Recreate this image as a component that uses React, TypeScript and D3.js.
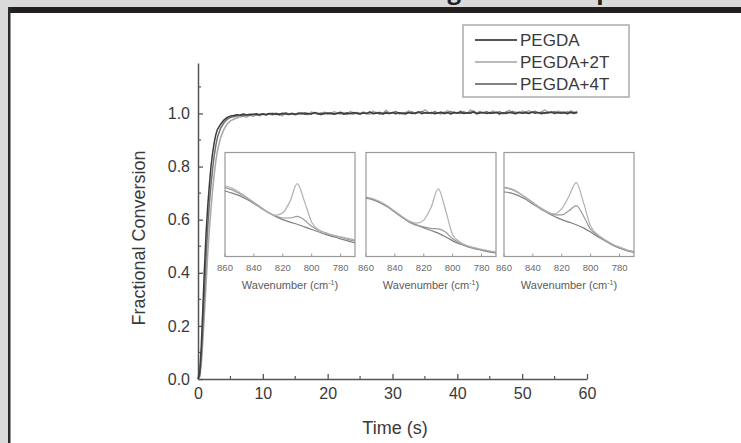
import React, { useEffect, useRef } from 'react';
import * as d3 from 'd3';

// time axis (s)
const timeS = [
  0, 0.25, 0.5, 0.75, 1, 1.25, 1.5, 1.75, 2, 2.25, 2.5, 2.75, 3, 3.5, 4, 4.5, 5,
  5.5, 6, 6.5, 7, 7.5, 8, 8.5, 9, 9.5, 10,
  10.5, 11, 11.5, 12, 12.5, 13, 13.5, 14, 14.5, 15,
  15.5, 16, 16.5, 17, 17.5, 18, 18.5, 19, 19.5, 20,
  20.5, 21, 21.5, 22, 22.5, 23, 23.5, 24, 24.5, 25,
  25.5, 26, 26.5, 27, 27.5, 28, 28.5, 29, 29.5, 30,
  30.5, 31, 31.5, 32, 32.5, 33, 33.5, 34, 34.5, 35,
  35.5, 36, 36.5, 37, 37.5, 38, 38.5, 39, 39.5, 40,
  40.5, 41, 41.5, 42, 42.5, 43, 43.5, 44, 44.5, 45,
  45.5, 46, 46.5, 47, 47.5, 48, 48.5, 49, 49.5, 50,
  50.5, 51, 51.5, 52, 52.5, 53, 53.5, 54, 54.5, 55,
  55.5, 56, 56.5, 57, 57.5, 58, 58.5,
];

const pegda = [
  0, 0.02, 0.12, 0.27, 0.42, 0.55, 0.65, 0.73, 0.8, 0.85, 0.89, 0.92, 0.94, 0.96, 0.975, 0.985, 0.99,
  0.992, 0.995, 0.993, 0.998, 0.994, 0.997, 0.996, 0.999, 0.995, 0.998,
  0.996, 1.0, 0.997, 0.999, 0.995, 1.001, 0.998, 0.996, 1.0, 0.997,
  0.999, 1.002, 0.997, 1.0, 0.998, 1.003, 0.999, 0.996, 1.001, 0.999,
  1.002, 0.998, 1.0, 1.003, 0.997, 1.001, 0.999, 1.004, 1.0, 0.998,
  1.002, 1.0, 1.005, 0.999, 1.001, 1.003, 0.998, 1.002, 1.0, 1.004,
  0.999, 1.003, 1.001, 0.998, 1.004, 1.0, 1.002, 1.006, 0.999, 1.003,
  1.001, 1.004, 0.999, 1.002, 1.005, 1.0, 1.003, 0.998, 1.004, 1.001,
  1.006, 1.0, 1.003, 1.001, 1.005, 0.999, 1.002, 1.004, 1.0, 1.003,
  1.001, 1.005, 0.998, 1.003, 1.0, 1.004, 1.002, 0.999, 1.005, 1.001,
  1.003, 1.0, 1.006, 1.001, 1.004, 0.999, 1.003, 1.002, 1.005, 1.0,
  1.004, 1.001, 1.003, 0.999, 1.005, 1.002, 1.004,
];

const pegda2T = [
  0, 0.01, 0.05, 0.14, 0.25, 0.36, 0.47, 0.56, 0.64, 0.71, 0.77, 0.82, 0.86, 0.91, 0.94, 0.96, 0.972,
  0.978, 0.983, 0.987, 0.99, 0.986, 0.993, 0.989, 0.995, 0.991, 0.997,
  0.993, 0.999, 0.994, 1.002, 0.996, 0.991, 1.003, 0.997, 1.0, 0.994,
  1.004, 0.998, 1.001, 0.995, 1.006, 0.999, 1.002, 0.996, 1.005, 1.0,
  0.997, 1.007, 1.001, 0.998, 1.004, 0.995, 1.008, 1.0, 1.003, 0.998,
  1.006, 1.001, 0.997, 1.009, 1.002, 1.005, 0.999, 1.012, 1.003, 1.0,
  1.007, 0.998, 1.004, 1.001, 1.01, 1.003, 0.999, 1.006, 1.002, 1.014,
  1.004, 1.0, 1.008, 1.002, 1.005, 0.999, 1.011, 1.003, 1.006, 1.001,
  1.009, 1.004, 1.0, 1.013, 1.005, 1.002, 1.008, 1.001, 1.006, 1.003,
  1.01, 1.002, 1.007, 0.999, 1.005, 1.012, 1.003, 1.006, 1.0, 1.009,
  1.004, 1.011, 1.002, 1.007, 1.0, 1.006, 1.013, 1.003, 1.008, 1.002,
  1.009, 1.004, 1.007, 1.001, 1.01, 1.005, 1.008,
];

const pegda4T = [
  0, 0.01, 0.08, 0.2, 0.33, 0.46, 0.57, 0.66, 0.73, 0.79, 0.84, 0.88, 0.91, 0.945, 0.965, 0.978, 0.985,
  0.988, 0.99, 0.993, 0.991, 0.995, 0.993, 0.997, 0.994, 0.996, 0.999,
  0.995, 0.998, 1.001, 0.996, 0.999, 0.997, 1.002, 0.998, 1.0, 0.997,
  1.001, 0.998, 1.003, 0.999, 1.0, 1.004, 0.998, 1.002, 0.999, 1.003,
  1.0, 0.997, 1.002, 1.005, 0.999, 1.003, 1.001, 0.998, 1.004, 1.0,
  1.003, 0.999, 1.006, 1.001, 1.004, 0.998, 1.002, 1.005, 1.0, 1.003,
  1.007, 1.001, 0.999, 1.004, 1.002, 1.006, 1.0, 1.003, 1.008, 1.001,
  1.004, 1.0, 1.006, 1.002, 0.999, 1.005, 1.003, 1.007, 1.001, 1.004,
  1.0, 1.006, 1.002, 1.004, 1.009, 1.001, 1.005, 1.002, 1.007, 1.0,
  1.004, 1.002, 1.006, 1.0, 1.005, 1.003, 1.008, 1.001, 1.004, 1.002,
  1.006, 1.001, 1.004, 1.008, 1.002, 1.005, 1.0, 1.006, 1.003, 1.007,
  1.001, 1.005, 1.002, 1.006, 1.003, 1.0, 1.004,
];

const seriesNames = ['PEGDA', 'PEGDA+2T', 'PEGDA+4T'];
const xTicks = [0, 10, 20, 30, 40, 50, 60];
const xMinorTicks = [5, 15, 25, 35, 45, 55];
const yTicks = [0, 0.2, 0.4, 0.6, 0.8, 1.0];
const yMinorTicks = [0.1, 0.3, 0.5, 0.7, 0.9, 1.1];

// inset spectra, wavenumber (cm-1) vs absorbance (a.u.)
const wavenumbers = [860, 855, 850, 845, 840, 835, 830, 825, 820, 815, 810, 805, 800, 795, 790, 785, 780, 775, 770];
const insetTicks = [860, 840, 820, 800, 780];

const inset1Low = [0.63, 0.61, 0.585, 0.55, 0.51, 0.465, 0.42, 0.385, 0.355, 0.33, 0.31, 0.285, 0.26, 0.235, 0.21, 0.19, 0.17, 0.15, 0.13];
const inset1Mid = [0.665, 0.64, 0.605, 0.565, 0.52, 0.47, 0.425, 0.39, 0.37, 0.37, 0.385, 0.35, 0.29, 0.25, 0.225, 0.2, 0.185, 0.165, 0.15];
const inset1Peak = [0.68, 0.655, 0.615, 0.57, 0.52, 0.47, 0.425, 0.395, 0.42, 0.53, 0.7, 0.53, 0.33, 0.255, 0.225, 0.205, 0.19, 0.175, 0.16];

const inset2Low = [0.56, 0.545, 0.515, 0.475, 0.425, 0.375, 0.33, 0.3, 0.275, 0.25, 0.225, 0.19, 0.15, 0.12, 0.095, 0.075, 0.06, 0.045, 0.035];
const inset2Mid = [0.57, 0.55, 0.52, 0.48, 0.43, 0.38, 0.335, 0.305, 0.285, 0.27, 0.265, 0.235, 0.17, 0.13, 0.1, 0.08, 0.065, 0.05, 0.04];
const inset2Peak = [0.575, 0.555, 0.525, 0.485, 0.435, 0.385, 0.34, 0.32, 0.35, 0.47, 0.65, 0.45, 0.21, 0.14, 0.105, 0.085, 0.07, 0.055, 0.045];

const inset3Low = [0.62, 0.61, 0.585, 0.55, 0.505, 0.46, 0.42, 0.385, 0.355, 0.33, 0.305, 0.275, 0.235, 0.19, 0.15, 0.11, 0.08, 0.055, 0.04];
const inset3Mid = [0.665, 0.65, 0.615, 0.57, 0.52, 0.47, 0.43, 0.4, 0.4, 0.44, 0.49, 0.39, 0.26, 0.2, 0.155, 0.115, 0.085, 0.06, 0.045];
const inset3Peak = [0.66, 0.645, 0.61, 0.565, 0.515, 0.465, 0.425, 0.41, 0.46, 0.58, 0.71, 0.52, 0.29, 0.21, 0.16, 0.12, 0.09, 0.065, 0.05];

const App = () => {
  const svgRef = useRef<SVGSVGElement>(null);

  useEffect(() => {
    const W = 741;
    const H = 443;
    const font = 'Liberation Sans, Arial, Helvetica, sans-serif';
    const axisColor = '#555';
    const textColor = '#3a3a3a';

    const svg = d3.select(svgRef.current);
    svg.selectAll('*').remove();

    // page frame
    svg.append('rect').attr('width', W).attr('height', H).attr('fill', '#dadada');
    svg.append('rect').attr('x', 10).attr('y', 13).attr('width', W - 10).attr('height', H - 13).attr('fill', '#fff');
    svg.append('rect').attr('x', 8).attr('y', 7).attr('width', W - 8).attr('height', 6).attr('fill', '#231f20');
    svg.append('rect').attr('x', 8).attr('y', 7).attr('width', 2.5).attr('height', H - 7).attr('fill', '#2b2b2b');

    // header cut off above the frame
    svg.append('text').attr('x', 461).attr('y', -1).attr('text-anchor', 'end')
      .attr('font-family', 'Open Sans, sans-serif').attr('font-weight', 700).attr('font-size', 24)
      .attr('fill', '#222').text('Monitoring');
    svg.append('text').attr('x', 583).attr('y', -1)
      .attr('font-family', 'Open Sans, sans-serif').attr('font-weight', 700).attr('font-size', 24)
      .attr('fill', '#222').text('Spectra');

    // scales
    const x = d3.scaleLinear().domain([0, 60]).range([198, 587]);
    const y = d3.scaleLinear().domain([0, 1.19]).range([379, 63]);

    // axes
    const gx = svg.append('g')
      .attr('transform', 'translate(0,379)')
      .call(d3.axisBottom(x).tickValues(xTicks).tickSizeInner(-5).tickSizeOuter(0).tickPadding(9).tickFormat(d3.format('d')));
    const gy = svg.append('g')
      .attr('transform', 'translate(198,0)')
      .call(d3.axisLeft(y).tickValues(yTicks).tickSizeInner(-5).tickSizeOuter(0).tickPadding(8).tickFormat(d3.format('.1f')));

    [gx, gy].forEach(g => {
      g.select('.domain').attr('stroke', axisColor).attr('stroke-width', 1.5);
      g.selectAll('.tick line').attr('stroke', axisColor).attr('stroke-width', 1.3);
      g.selectAll('.tick text').attr('font-family', font).attr('font-size', 16).attr('fill', textColor);
    });

    gx.selectAll('.minor').data(xMinorTicks).enter().append('line')
      .attr('x1', d => x(d)).attr('x2', d => x(d)).attr('y1', 0).attr('y2', -3)
      .attr('stroke', axisColor).attr('stroke-width', 1.2);
    gy.selectAll('.minor').data(yMinorTicks).enter().append('line')
      .attr('y1', d => y(d)).attr('y2', d => y(d)).attr('x1', 0).attr('x2', 3)
      .attr('stroke', axisColor).attr('stroke-width', 1.2);

    svg.append('text').attr('x', 395).attr('y', 434).attr('text-anchor', 'middle')
      .attr('font-family', font).attr('font-size', 18).attr('fill', textColor).text('Time (s)');
    svg.append('text').attr('transform', 'translate(145,238) rotate(-90)').attr('text-anchor', 'middle')
      .attr('font-family', font).attr('font-size', 18).attr('fill', textColor).text('Fractional Conversion');

    // kinetics curves
    const line = d3.line<number>().x((_, i) => x(timeS[i])).y(d => y(d));
    const series = [
      { name: seriesNames[1], values: pegda2T, color: '#a8a8a8' },
      { name: seriesNames[2], values: pegda4T, color: '#707070' },
      { name: seriesNames[0], values: pegda, color: '#3c3c3c' },
    ];
    series.forEach(s => {
      svg.append('path').datum(s.values).attr('d', line).attr('fill', 'none')
        .attr('stroke', s.color).attr('stroke-width', 1.5).attr('stroke-linejoin', 'round');
    });

    // insets
    const insets = [
      { left: 225, curves: [inset1Low, inset1Mid, inset1Peak] },
      { left: 366, curves: [inset2Low, inset2Mid, inset2Peak] },
      { left: 504, curves: [inset3Low, inset3Mid, inset3Peak] },
    ];
    const insetColors = ['#808080', '#9a9a9a', '#b0b0b0'];
    const insetTop = 152.5;
    const insetH = 104;
    const insetW = 130;
    insets.forEach(ins => {
      const ix = d3.scaleLinear().domain([860, 770]).range([ins.left, ins.left + insetW]);
      const iy = d3.scaleLinear().domain([0, 1]).range([insetTop + insetH, insetTop]);
      const g = svg.append('g');
      g.append('rect').attr('x', ins.left).attr('y', insetTop).attr('width', insetW).attr('height', insetH)
        .attr('fill', '#fff').attr('stroke', '#9a9a9a').attr('stroke-width', 1.2);
      const iline = d3.line<number>().x((_, i) => ix(wavenumbers[i])).y(d => iy(d)).curve(d3.curveMonotoneX);
      ins.curves.forEach((c, k) => {
        g.append('path').datum(c).attr('d', iline).attr('fill', 'none')
          .attr('stroke', insetColors[k]).attr('stroke-width', 1.2);
      });
      g.selectAll('.itick').data(insetTicks).enter().append('line')
        .attr('x1', d => ix(d)).attr('x2', d => ix(d))
        .attr('y1', insetTop + insetH).attr('y2', insetTop + insetH - 3)
        .attr('stroke', '#9a9a9a');
      g.selectAll('.ilabel').data(insetTicks).enter().append('text')
        .attr('x', d => ix(d)).attr('y', 271).attr('text-anchor', 'middle')
        .attr('font-family', font).attr('font-size', 9.5).attr('fill', '#6a6a6a')
        .text(d => String(d));
      const t = g.append('text').attr('x', ins.left + insetW / 2).attr('y', 289).attr('text-anchor', 'middle')
        .attr('font-family', font).attr('font-size', 11).attr('fill', '#5a5a5a');
      t.append('tspan').text('Wavenumber (cm');
      t.append('tspan').attr('dy', -4).attr('font-size', 7).text('-1');
      t.append('tspan').attr('dy', 4).text(')');
    });

    // legend
    const legend = svg.append('g');
    legend.append('rect').attr('x', 463).attr('y', 25).attr('width', 166).attr('height', 72)
      .attr('fill', '#fff').attr('stroke', '#aaa').attr('stroke-width', 1.5);
    const legendColors = ['#555', '#bbb', '#808080'];
    seriesNames.forEach((name, i) => {
      const ly = 40 + i * 22;
      legend.append('line').attr('x1', 475).attr('x2', 517).attr('y1', ly).attr('y2', ly)
        .attr('stroke', legendColors[i]).attr('stroke-width', 2);
      legend.append('text').attr('x', 520).attr('y', ly + 6)
        .attr('font-family', font).attr('font-size', 17).attr('fill', textColor).text(name);
    });
  }, []);

  return (
    <>
      <style>{'body{margin:0}'}</style>
      <svg ref={svgRef} width={741} height={443} style={{ display: 'block' }} />
    </>
  );
};

export default App;
